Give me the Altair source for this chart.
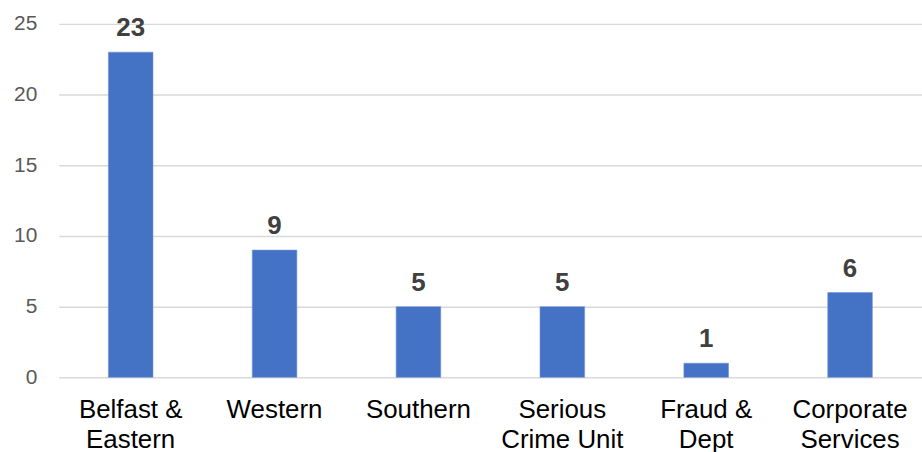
import altair as alt
import pandas as pd

categories = ["Belfast &\nEastern", "Western", "Southern", "Serious\nCrime Unit", "Fraud &\nDept", "Corporate\nServices"]
values = [23, 9, 5, 5, 1, 6]

df = pd.DataFrame({"cat": categories, "val": values})

x = alt.X("cat:N", sort=categories, title=None,
          scale=alt.Scale(paddingInner=0.69, paddingOuter=0.345),
          axis=alt.Axis(labelExpr="split(datum.label, '\\n')", labelAngle=0,
                        labelFont="Liberation Sans", labelFontSize=26, labelColor="#000000",
                        labelBaseline="alphabetic", labelPadding=40, labelLineHeight=30,
                        ticks=False, domain=False, grid=False, labelLimit=300))
yscale = alt.Scale(domain=[0, 25], nice=False, zero=True)
y = alt.Y("val:Q", title=None, scale=yscale,
          axis=alt.Axis(values=[0, 5, 10, 15, 20, 25], labelFont="Liberation Sans",
                        labelFontSize=21, labelColor="#595959", labelPadding=22,
                        ticks=False, domain=False, gridColor="#d9d9d9", gridWidth=1.5))

bars = alt.Chart(df).mark_bar(color="#4472C4", stroke="#6f93d6", strokeWidth=0.6).encode(x=x, y=y)
text = alt.Chart(df).mark_text(font="Liberation Sans", fontSize=26, fontWeight="bold",
                               color="#404040", baseline="alphabetic", dy=-16).encode(
    x=alt.X("cat:N", sort=categories), y=alt.Y("val:Q", scale=yscale), text="val:Q")

chart = (bars + text).properties(
    width=867, height=355,
    autosize=alt.AutoSizeParams(type="none"),
    padding={"left": 59, "top": 23, "right": 0, "bottom": 74},
).configure_view(stroke=None)

chart.save("out.html", embed_options={"renderer": "svg", "actions": False})
